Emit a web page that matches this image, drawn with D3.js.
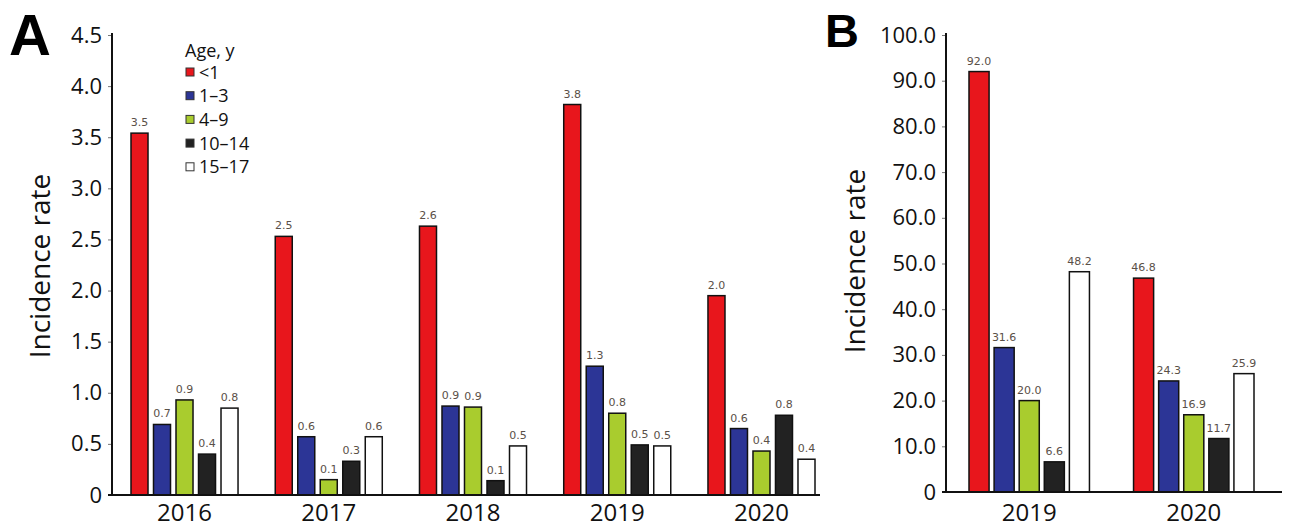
<!DOCTYPE html>
<html>
<head>
<meta charset="utf-8">
<script src="https://cdn.jsdelivr.net/npm/d3@7"></script>
<style>
  body { margin: 0; background: #fff; }
  svg { display: block; }
</style>
</head>
<body>
<script>
// Datos
const ageGroups = ["<1", "1–3", "4–9", "10–14", "15–17"]
const colors = ["#e8161c", "#2c3596", "#a9cc2e", "#222222", "#ffffff"]

const yearsA = ["2016", "2017", "2018", "2019", "2020"]
const valuesA = [
  [3.54, 0.69, 0.93, 0.40, 0.85],
  [2.53, 0.57, 0.15, 0.33, 0.57],
  [2.63, 0.87, 0.86, 0.14, 0.48],
  [3.82, 1.26, 0.80, 0.49, 0.48],
  [1.95, 0.65, 0.43, 0.78, 0.35]
]
// etiquetas tal como aparecen impresas
const labelsA = [
  ["3.5", "0.7", "0.9", "0.4", "0.8"],
  ["2.5", "0.6", "0.1", "0.3", "0.6"],
  ["2.6", "0.9", "0.9", "0.1", "0.5"],
  ["3.8", "1.3", "0.8", "0.5", "0.5"],
  ["2.0", "0.6", "0.4", "0.8", "0.4"]
]
const ticksA = [0, 0.5, 1, 1.5, 2, 2.5, 3, 3.5, 4, 4.5]

const yearsB = ["2019", "2020"]
const valuesB = [
  [92.0, 31.6, 20.0, 6.6, 48.2],
  [46.8, 24.3, 16.9, 11.7, 25.9]
]
const ticksB = [0, 10, 20, 30, 40, 50, 60, 70, 80, 90, 100]

// Crear espacio svg
let svg = d3.select("body")
    .append("svg")
    .attr("width", 1289)
    .attr("height", 529)

const font = "'Open Sans', sans-serif"

function panel(cfg) {
    let g = svg.append("g")

    let y = d3.scaleLinear().domain(cfg.domain).range([cfg.y0, cfg.y1])
    let x0 = d3.scaleBand().domain(cfg.years).range(cfg.xr).paddingInner(cfg.padG).paddingOuter(0)
    let x1 = d3.scaleBand().domain(d3.range(5)).range([0, x0.bandwidth()]).paddingInner(cfg.padB).paddingOuter(0)

    // eje y
    let axisY = g.append("g")
        .attr("transform", `translate(${cfg.axisX},0)`)
        .call(d3.axisLeft(y).tickValues(cfg.ticks).tickSize(4).tickPadding(6)
            .tickFormat(d => d == 0 ? "0" : d3.format(".1f")(d)))
    axisY.select(".domain").remove()
    axisY.selectAll(".tick line").attr("stroke", "#777")
    axisY.selectAll("text")
        .style("font-family", font)
        .style("font-size", cfg.tickSize + "px")
        .attr("fill", "#111")
    g.append("line")
        .attr("x1", cfg.axisX).attr("x2", cfg.axisX)
        .attr("y1", cfg.y1 - 2).attr("y2", cfg.y0)
        .attr("stroke", "#111").attr("stroke-width", 2)

    // barras
    let groups = g.selectAll("g.year")
        .data(cfg.values)
        .join("g")
        .attr("class", "year")
        .attr("transform", (d, i) => `translate(${x0(cfg.years[i])},0)`)

    groups.selectAll("rect")
        .data(d => d)
        .join("rect")
        .attr("x", (d, j) => x1(j))
        .attr("width", x1.bandwidth())
        .attr("y", d => y(d))
        .attr("height", d => y(0) - y(d))
        .attr("fill", (d, j) => colors[j])
        .attr("stroke", "#111")
        .attr("stroke-width", 1.5)

    groups.selectAll("text")
        .data((d, i) => d.map((v, j) => ({ v: v, lab: cfg.labels ? cfg.labels[i][j] : d3.format(".1f")(v) })))
        .join("text")
        .attr("x", (d, j) => x1(j) + x1.bandwidth() / 2)
        .attr("y", d => y(d.v) - 7)
        .attr("text-anchor", "middle")
        .style("font-family", "'DejaVu Sans', sans-serif")
        .style("font-size", "11px")
        .attr("fill", "#5a5048")
        .text(d => d.lab)

    // eje x
    g.append("line")
        .attr("x1", cfg.axisX - 4).attr("x2", cfg.xEnd)
        .attr("y1", cfg.y0).attr("y2", cfg.y0)
        .attr("stroke", "#111").attr("stroke-width", 2)

    g.selectAll("text.yr")
        .data(cfg.years)
        .join("text")
        .attr("class", "yr")
        .attr("x", d => x0(d) + x0.bandwidth() / 2)
        .attr("y", 521)
        .attr("text-anchor", "middle")
        .style("font-family", font)
        .style("font-size", "24px")
        .attr("fill", "#111")
        .text(d => d)

    // título eje y
    g.append("text")
        .attr("transform", `translate(${cfg.titleX},${cfg.titleY}) rotate(-90)`)
        .attr("text-anchor", "middle")
        .style("font-family", font)
        .style("font-size", "28px")
        .attr("fill", "#111")
        .text("Incidence rate")

    // letra del panel
    g.append("text")
        .attr("x", cfg.letterX).attr("y", cfg.letterY)
        .style("font-family", "'Liberation Sans', Arial, sans-serif")
        .style("font-weight", "bold")
        .style("font-size", cfg.letterSize + "px")
        .attr("fill", "#000")
        .text(cfg.letter)
}

panel({
    years: yearsA, values: valuesA, labels: labelsA, ticks: ticksA,
    domain: [0, 4.5], y0: 495, y1: 35, xr: [131, 815], padG: 0.258, padB: 0.244,
    axisX: 112, xEnd: 820, tickSize: 22, titleX: 50, titleY: 266,
    letter: "A", letterX: 9, letterY: 55, letterSize: 58
})

panel({
    years: yearsB, values: valuesB, labels: null, ticks: ticksB,
    domain: [0, 100], y0: 492, y1: 35, xr: [969, 1254], padG: 0.268, padB: 0.2,
    axisX: 946, xEnd: 1282, tickSize: 22, titleX: 865, titleY: 261,
    letter: "B", letterX: 825, letterY: 47, letterSize: 47
})

// Leyenda
let legend = svg.append("g").attr("transform", "translate(185,0)")
legend.append("text")
    .attr("x", 0).attr("y", 57)
    .style("font-family", font).style("font-size", "18px")
    .attr("fill", "#111")
    .text("Age, y")
let items = legend.selectAll("g.item")
    .data(ageGroups)
    .join("g")
    .attr("class", "item")
    .attr("transform", (d, i) => `translate(0,${72 + i * 23.7})`)
items.append("rect")
    .attr("x", 1).attr("y", -4).attr("width", 8).attr("height", 8)
    .attr("fill", (d, i) => colors[i])
    .attr("stroke", "#333").attr("stroke-width", 1)
items.append("text")
    .attr("x", 14).attr("y", 6.5)
    .style("font-family", font).style("font-size", "18px")
    .attr("fill", "#111")
    .text(d => d)
</script>
</body>
</html>
